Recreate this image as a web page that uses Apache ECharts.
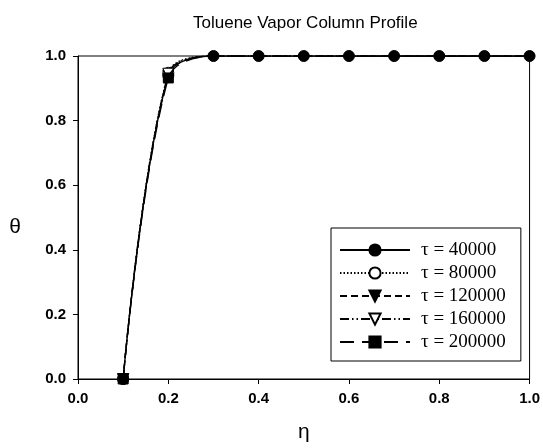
<!DOCTYPE html>
<html>
<head>
<meta charset="utf-8">
<script src="https://cdn.jsdelivr.net/npm/echarts@6/dist/echarts.min.js"></script>
<style>
html,body{margin:0;padding:0;background:#fff;}
#chart{width:543px;height:448px;}
</style>
</head>
<body>
<div id="chart"></div>
<script>
// ---- data ----
var eta = [0.1, 0.2, 0.3, 0.4, 0.5, 0.6, 0.7, 0.8, 0.9, 1.0];
var tau40000  = [0, 0.940, 1, 1, 1, 1, 1, 1, 1, 1];
var tau80000  = [0, 0.948, 1, 1, 1, 1, 1, 1, 1, 1];
var tau120000 = [0, 0.940, 1, 1, 1, 1, 1, 1, 1, 1];
var tau160000 = [0, 0.945, 1, 1, 1, 1, 1, 1, 1, 1];
var tau200000 = [0, 0.932, 1, 1, 1, 1, 1, 1, 1, 1];
var seriesNames = ['τ = 40000', 'τ = 80000', 'τ = 120000', 'τ = 160000', 'τ = 200000'];
var xTicks = [0.0, 0.2, 0.4, 0.6, 0.8, 1.0];
var yTicks = [0.0, 0.2, 0.4, 0.6, 0.8, 1.0];

var styles = [
  {symbol: 'circle', rotate: 0, fill: '#000', type: 'solid'},
  {symbol: 'circle', rotate: 0, fill: '#fff', type: [1.5, 2]},
  {symbol: 'triangle', rotate: 180, fill: '#000', type: [7, 4]},
  {symbol: 'triangle', rotate: 180, fill: '#fff', type: [9, 3, 1.5, 3, 1.5, 3]},
  {symbol: 'rect', rotate: 0, fill: '#000', type: [14, 8]}
];
var allData = [tau40000, tau80000, tau120000, tau160000, tau200000];

// in the reference only the first series' markers show on the plateau (eta >= 0.3)
function buildData(ys, i) {
  return eta.map(function (x, k) {
    var item = {value: [x, ys[k]]};
    if (i > 0 && k >= 2) { item.symbol = 'none'; }
    return item;
  });
}

var series = allData.map(function (ys, i) {
  var s = styles[i];
  return {
    name: seriesNames[i],
    type: 'line',
    data: buildData(ys, i),
    smooth: 0.35,
    clip: true,
    symbol: s.symbol,
    symbolRotate: s.rotate,
    symbolSize: s.symbol === 'rect' ? 10 : 11,
    showAllSymbol: true,
    lineStyle: {color: '#000', width: 1.4, type: s.type},
    itemStyle: {color: s.fill, borderColor: '#000', borderWidth: 1},
    z: 2 + i
  };
});

var chart = echarts.init(document.getElementById('chart'), null, {renderer: 'canvas'});
chart.setOption({
  backgroundColor: '#fff',
  animation: false,
  title: {
    text: 'Toluene Vapor Column Profile',
    left: 188,
    top: 10,
    textStyle: {fontFamily: 'Liberation Sans, Arial, sans-serif', fontSize: 17, fontWeight: 'normal', color: '#000'}
  },
  grid: {
    left: 78, right: 11, top: 56, bottom: 66,
    show: true, borderColor: '#000', borderWidth: 1, backgroundColor: 'transparent'
  },
  legend: {
    left: 331, top: 228,
    orient: 'vertical',
    itemWidth: 70, itemHeight: 14, itemGap: 3,
    padding: [12, 15, 9, 8],
    borderColor: '#000', borderWidth: 1, backgroundColor: '#fff',
    data: seriesNames,
    textStyle: {fontFamily: 'Liberation Serif, Times New Roman, serif', fontSize: 19, color: '#000', lineHeight: 20, padding: [0, 0, 0, 6]}
  },
  xAxis: {
    type: 'value', min: 0, max: 1, interval: 0.2,
    name: 'η', nameLocation: 'middle', nameGap: 43,
    nameTextStyle: {fontFamily: 'Liberation Sans, Arial, sans-serif', fontSize: 21, color: '#000'},
    axisLine: {show: true, onZero: false, lineStyle: {color: '#000', width: 1}},
    axisTick: {show: true, inside: false, length: 5, lineStyle: {color: '#000'}},
    splitLine: {show: false},
    axisLabel: {
      margin: 12, fontFamily: 'Liberation Sans, Arial, sans-serif', fontSize: 15, fontWeight: 'bold', color: '#000',
      formatter: function (v) { return v.toFixed(1); }
    }
  },
  yAxis: {
    type: 'value', min: 0, max: 1, interval: 0.2,
    name: 'θ', nameLocation: 'middle', nameGap: 57, nameRotate: 0,
    nameTextStyle: {fontFamily: 'Liberation Sans, Arial, sans-serif', fontSize: 21, color: '#000', verticalAlign: 'top', lineHeight: 20},
    axisLine: {show: true, onZero: false, lineStyle: {color: '#000', width: 1}},
    axisTick: {show: true, inside: false, length: 5, lineStyle: {color: '#000'}},
    splitLine: {show: false},
    axisLabel: {
      margin: 12, fontFamily: 'Liberation Sans, Arial, sans-serif', fontSize: 15, fontWeight: 'bold', color: '#000',
      formatter: function (v) { return v.toFixed(1); }
    }
  },
  series: series
});
</script>
</body>
</html>
